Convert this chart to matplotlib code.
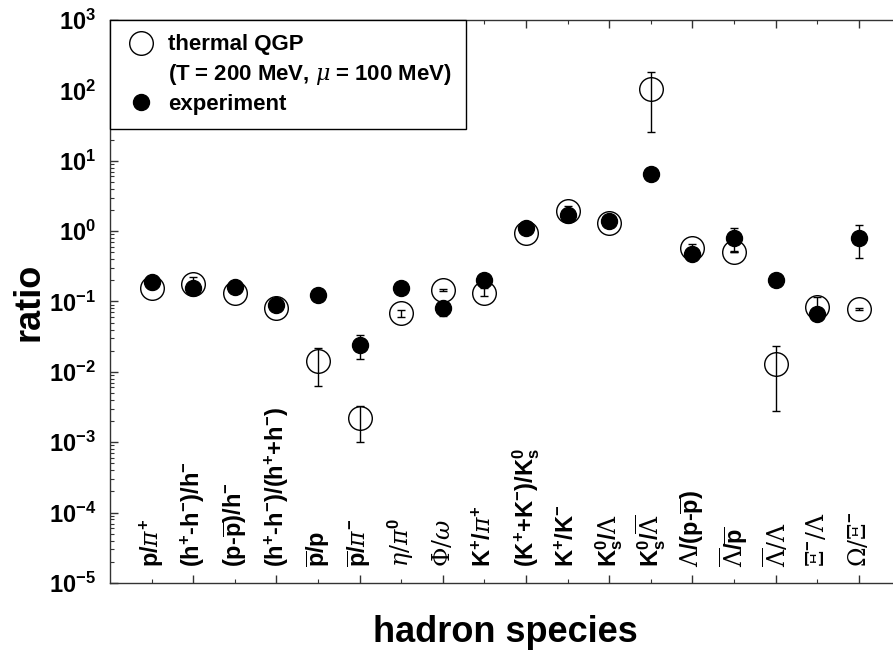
import numpy as np
import matplotlib
matplotlib.use("Agg")
import matplotlib.pyplot as plt
from matplotlib.lines import Line2D
from matplotlib.ticker import FixedLocator, LogLocator, FuncFormatter, NullFormatter

plt.rcParams['font.family'] = ['Liberation Sans', 'DejaVu Sans']
plt.rcParams['mathtext.fontset'] = 'custom'
plt.rcParams['mathtext.rm'] = 'DejaVu Serif:weight=normal'
plt.rcParams['mathtext.it'] = 'DejaVu Serif:style=italic:weight=normal'
plt.rcParams['mathtext.bf'] = 'Liberation Sans:weight=bold'
plt.rcParams['mathtext.sf'] = 'Liberation Sans:weight=bold'

# ---------------- data ----------------
categories = [
    r'p/$\pi^{\mathbf{+}}$',
    r'(h$^{\mathbf{+}}$-h$^{\mathbf{-}}$)/h$^{\mathbf{-}}$',
    r'(p-$\overline{\mathbf{p}}$)/h$^{\mathbf{-}}$',
    r'(h$^{\mathbf{+}}$-h$^{\mathbf{-}}$)/(h$^{\mathbf{+}}$+h$^{\mathbf{-}}$)',
    r'$\overline{\mathbf{p}}$/p',
    r'$\overline{\mathbf{p}}$/$\pi^{\mathbf{-}}$',
    r'$\eta/\pi^{\mathbf{0}}$',
    r'$\Phi/\omega$',
    r'K$^{\mathbf{+}}$/$\pi^{\mathbf{+}}$',
    r'(K$^{\mathbf{+}}$+K$^{\mathbf{-}}$)/K$^{\mathbf{0}}_{\mathbf{s}}$',
    r'K$^{\mathbf{+}}$/K$^{\mathbf{-}}$',
    r'K$^{\mathbf{0}}_{\mathbf{s}}$/$\Lambda$',
    r'K$^{\mathbf{0}}_{\mathbf{s}}$/$\overline{\Lambda}$',
    r'$\Lambda$/(p-$\overline{\mathbf{p}}$)',
    r'$\overline{\Lambda}$/$\overline{\mathbf{p}}$',
    r'$\overline{\Lambda}/\Lambda$',
    r'$\Xi^{\mathbf{-}}/\Lambda$',
    r'$\Omega/\Xi^{\mathbf{-}}$',
]

thermal = [0.155, 0.178, 0.134, 0.080, 0.0145, 0.0022, 0.068, 0.146, 0.134,
           0.953, 1.95, 1.32, 105.0, 0.571, 0.512, 0.013, 0.083, 0.0785]
thermal_lo = [0.150, 0.150, 0.130, 0.078, 0.0063, 0.00102, 0.061, 0.140, 0.120,
              0.930, 1.90, 1.29, 25.9, 0.50, 0.50, 0.00279, 0.075, 0.076]
thermal_hi = [0.160, 0.226, 0.138, 0.082, 0.0221, 0.00329, 0.076, 0.152, 0.155,
              0.980, 2.00, 1.35, 184.0, 0.651, 0.52, 0.0234, 0.115, 0.081]

experiment = [0.19, 0.155, 0.163, 0.0895, 0.124, 0.0242, 0.158, 0.080, 0.203,
              1.10, 1.70, 1.41, 6.49, 0.474, 0.809, 0.203, 0.066, 0.809]
experiment_lo = [0.155, 0.150, 0.150, 0.085, 0.120, 0.0153, 0.150, 0.063, 0.195,
                 1.00, 1.50, 1.35, 6.2, 0.45, 0.51, 0.195, 0.062, 0.412]
experiment_hi = [0.21, 0.160, 0.175, 0.094, 0.128, 0.0336, 0.165, 0.095, 0.210,
                 1.20, 2.28, 1.47, 6.8, 0.50, 1.10, 0.210, 0.070, 1.22]

ytick_exps = list(range(-5, 4))

# ---------------- figure ----------------
fig = plt.figure(figsize=(8.93, 6.52), dpi=100)
ax = fig.add_axes([110 / 893, 1 - 583 / 652, 19.5 * 41.6 / 893, (583 - 20) / 652])

x = np.arange(1, len(categories) + 1)
th = np.array(thermal)
ex = np.array(experiment)

ax.errorbar(x, th, yerr=[th - np.array(thermal_lo), np.array(thermal_hi) - th],
            fmt='o', ms=17, mfc='none', mec='black', mew=1.0, ecolor='black',
            elinewidth=1.0, capsize=3, capthick=1.0, zorder=2)
ax.errorbar(x, ex, yerr=[ex - np.array(experiment_lo), np.array(experiment_hi) - ex],
            fmt='o', ms=11.5, mfc='black', mec='black', ecolor='black',
            elinewidth=1.0, capsize=3, capthick=1.0, zorder=3)

ax.set_yscale('log')
ax.set_ylim(1e-5, 1e3)
ax.set_xlim(0, 19.5)

ax.yaxis.set_major_locator(FixedLocator([10.0 ** e for e in ytick_exps]))
ax.yaxis.set_minor_locator(LogLocator(base=10, subs=np.arange(2, 10), numticks=30))
ax.yaxis.set_major_formatter(FuncFormatter(lambda v, p: r'$\mathbf{10^{%d}}$' % round(np.log10(v))))
ax.yaxis.set_minor_formatter(NullFormatter())

ax.xaxis.set_major_locator(FixedLocator(np.arange(2, 19, 2)))
ax.xaxis.set_minor_locator(FixedLocator(np.arange(1, 19, 2)))
ax.xaxis.set_major_formatter(NullFormatter())

ax.tick_params(which='both', direction='in', top=True, right=False, color='#333333')
ax.tick_params(which='major', length=6, width=1.0, labelsize=17)
ax.tick_params(axis='y', which='major', pad=10)
ax.tick_params(axis='x', which='major', pad=2, labelsize=10)
ax.tick_params(which='minor', length=3, width=0.8)
for s in ax.spines.values():
    s.set_linewidth(1.0)
    s.set_color('#333333')

for xi, lab in zip(x, categories):
    ax.text(xi, 1.7e-5, lab, rotation=90, ha='center', va='bottom', fontsize=17,
            fontweight='bold')

ax.set_ylabel('ratio', fontsize=26, fontweight='bold', labelpad=2)
ax.set_xlabel('hadron species', fontsize=26, fontweight='bold', labelpad=20)
ax.xaxis.label.set_x(0.487)

handles = [
    Line2D([], [], ls='none', marker='o', ms=17, mfc='none', mec='black', mew=1.0),
    Line2D([], [], ls='none', marker='none'),
    Line2D([], [], ls='none', marker='o', ms=11.5, mfc='black', mec='black'),
]
labels = ['thermal QGP', r'(T$\;$=$\;$200 MeV, $\mu$$\;$=$\;$100 MeV)', 'experiment']
leg = ax.legend(handles, labels, loc='upper left', bbox_to_anchor=(0, 1),
                borderaxespad=0, fancybox=False, framealpha=1, edgecolor='black',
                prop={'weight': 'bold', 'size': 16}, handletextpad=0.45,
                labelspacing=0.3, borderpad=0.65, handlelength=1.5)
leg.get_frame().set_linewidth(1.0)

fig.savefig('out.png', dpi=100)
